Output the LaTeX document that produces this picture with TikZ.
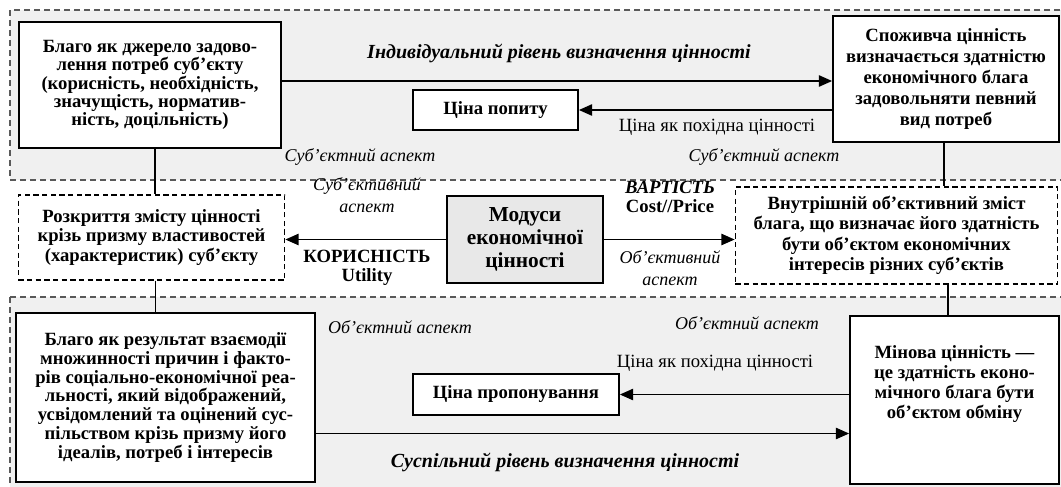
\documentclass[tikz,border=0pt]{standalone}
\usepackage{fontspec}
\setmainfont{Liberation Serif}
\usepackage{tikz}
\usetikzlibrary{arrows.meta}
\lineskiplimit=-10pt

\begin{document}
\begin{tikzpicture}[
    x=0.75pt, y=-0.75pt,
    >={Triangle[length=10pt,width=8.5pt]},
    region/.style={draw=black!65, fill=black!6, line width=0.8pt,
      dash pattern=on 4.5pt off 3pt},
    box/.style={draw, line width=1.3pt, fill=white, align=center,
      inner sep=2pt, font=\fontsize{14}{13.7}\selectfont\bfseries},
    dbox/.style={box, line width=0.8pt, dash pattern=on 4pt off 2.5pt},
    modbox/.style={box, fill=black!9,
      font=\fontsize{16}{17.5}\selectfont\bfseries},
    conn/.style={line width=1.3pt},
    arr/.style={->, line width=1.3pt},
    lvl/.style={font=\fontsize{15}{16}\selectfont\bfseries\itshape},
    asp/.style={font=\fontsize{13.5}{16}\selectfont\itshape, align=center},
    plain/.style={font=\fontsize{14}{16}\selectfont, align=center},
    tag/.style={font=\fontsize{14}{14}\selectfont\bfseries, align=center}
]
\useasboundingbox (0,0) rectangle (1061,486);
\draw[region] (10,10) rectangle (1080,180);
\draw[region] (10,297) rectangle (1080,500);

\node[box, minimum width=196.5pt, minimum height=94.5pt] (goodA) at (150,85)
  {Благо як джерело задово-\\лення потреб суб’єкту\\(корисність, необхідність,\\значущість, норматив-\\ність, доцільність)};
\node[box, minimum width=169.5pt, minimum height=94.5pt,
  font=\fontsize{14}{15.6}\selectfont\bfseries] (useval) at (946,79)
  {Споживча цінність\\визначається здатністю\\економічного блага\\задовольняти певний\\вид потреб};
\node[box, minimum width=123.75pt, minimum height=30pt] (demand) at (495.5,110)
  {Ціна попиту};
\node[dbox, minimum width=200pt, minimum height=63.75pt,
  font=\fontsize{14}{14.4}\selectfont\bfseries] (subjc) at (151.5,237.5)
  {Розкриття змісту цінності\\крізь призму властивостей\\(характеристик) суб’єкту};
\node[modbox, minimum width=117pt, minimum height=65.25pt] (modes) at (525,239.5)
  {Модуси\\економічної\\цінності};
\node[dbox, minimum width=242pt, minimum height=72.75pt,
  font=\fontsize{14}{15.3}\selectfont\bfseries] (objc) at (896.5,235.5)
  {Внутрішній об’єктивний зміст\\блага, що визначає його здатність\\бути об’єктом економічних\\інтересів різних суб’єктів};
\node[box, minimum width=224.25pt, minimum height=126.75pt,
  font=\fontsize{14}{14.1}\selectfont\bfseries] (goodB) at (165.5,397.5)
  {Благо як результат взаємодії\\множинності причин і факто-\\рів соціально-економічної реа-\\льності, який відображений,\\усвідомлений та оцінений сус-\\пільством крізь призму його\\ідеалів, потреб і інтересів};
\node[box, minimum width=156.75pt, minimum height=126pt,
  font=\fontsize{14}{15}\selectfont\bfseries] (exchval) at (954.5,400)
  {Мінова цінність —\\це здатність еконо-\\мічного блага бути\\об’єктом обміну\\[12pt]};
\node[box, minimum width=154.5pt, minimum height=30.75pt] (supply) at (516,394.5)
  {Ціна пропонування};

\node[lvl] (lvlind) at (559,53) {Індивідуальний рівень визначення цінності};
\node[plain] (pricea) at (717,127) {Ціна як похідна цінності};
\node[asp] (aspa) at (360,157) {Суб’єктний аспект};
\node[asp] (aspb) at (764,157) {Суб’єктний аспект};
\node[asp] (subjasp) at (367,195) {Суб’єктивний\\аспект};
\node[tag] (utility) at (367,268) {КОРИСНІСТЬ\\Utility};
\node[tag] (cost) at (670,197) {\textit{ВАРТІСТЬ}\\Cost//Price};
\node[asp] (objasp) at (670,268) {Об’єктивний\\аспект};
\node[asp] (aspc) at (400,327) {Об’єктний аспект};
\node[asp] (aspd) at (747,323) {Об’єктний аспект};
\node[plain] (priceb) at (715,363) {Ціна як похідна цінності};
\node[lvl] (lvlsoc) at (565,462) {Суспільний рівень визначення цінності};

\draw[arr] ([yshift=3pt]goodA.east) -- ([yshift=3pt]goodA.east -| useval.west);
\draw[arr] (demand.east -| useval.west) -- (demand.east);
\draw[conn] ([xshift=4pt]goodA.south) -- ([xshift=4pt]goodA.south |- subjc.north);
\draw[conn] ([xshift=-1.5pt]useval.south) -- ([xshift=-1.5pt]useval.south |- objc.north);
\draw[arr] (modes.west) -- (modes.west -| subjc.east);
\draw[arr] (modes.east) -- (modes.east -| objc.west);
\draw[conn] ([xshift=3pt]subjc.south) -- ([xshift=3pt]subjc.south |- goodB.north);
\draw[conn] ([xshift=-4.9pt]exchval.north) -- ([xshift=-4.9pt]exchval.north |- objc.south);
\draw[arr] (supply.east -| exchval.west) -- (supply.east);
\draw[arr] ([yshift=-27pt]goodB.east) -- ([yshift=-27pt]goodB.east -| exchval.west);
\end{tikzpicture}
\end{document}
